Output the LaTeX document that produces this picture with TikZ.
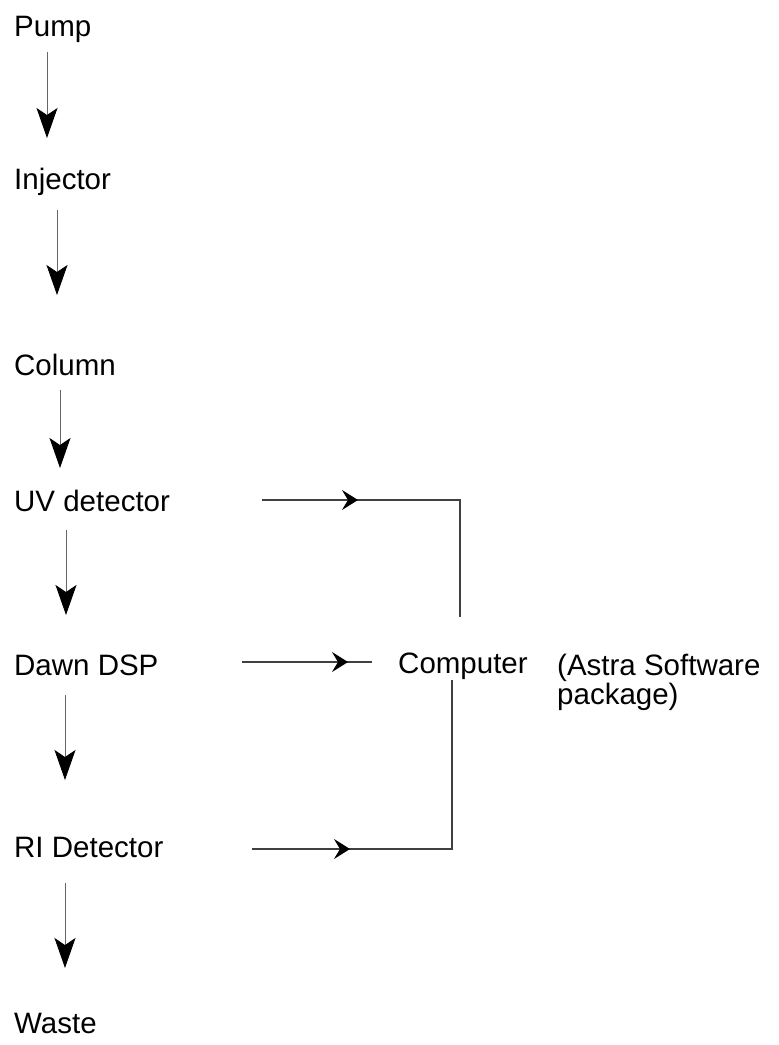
\documentclass[tikz,border=0pt]{standalone}
\usepackage{fontspec}
\setmainfont{Liberation Sans}
\usetikzlibrary{arrows.meta,calc,decorations.markings}
\begin{document}
\begin{tikzpicture}[x=1pt,y=-1pt,
  lbl/.style={inner sep=0pt, anchor=base west, font=\fontsize{29.5}{27}\selectfont},
  vline/.style={draw=black!60, line width=0.9pt, -{Stealth[length=30pt,width=21pt,inset=7pt,color=black]}},
  hline/.style={draw=black!75, line width=1.1pt},
  midtip/.style={postaction={decorate}, decoration={markings,
      mark=at position #1 with {\arrow{Stealth[length=16pt,width=20pt,inset=6pt,color=black]}}}}]
\useasboundingbox (0,0) rectangle (779,1045);

\node[lbl] (pump)     at (14,36)   {Pump};
\node[lbl] (injector) at (14,189)  {Injector};
\node[lbl] (column)   at (14,375)  {Column};
\node[lbl] (uv)       at (14,511)  {UV detector};
\node[lbl] (dawn)     at (14,675)  {Dawn DSP};
\node[lbl] (ri)       at (14,857)  {RI Detector};
\node[lbl] (waste)    at (14,1033) {Waste};
\node[lbl] (comp)     at (398,673) {Computer};
\node[lbl, anchor=north west, align=left] (astra) at (557,654) {(Astra Software\\package)};

% vertical flow
\draw[vline] ($(pump.base west)+(33,16)$)     -- ($(injector.base west)+(33,-51)$);
\draw[vline] ($(injector.base west)+(43,21)$) -- ($(column.base west)+(43,-80)$);
\draw[vline] ($(column.base west)+(46,15)$)   -- ($(uv.base west)+(46,-43)$);
\draw[vline] ($(uv.base west)+(52,19)$)       -- ($(dawn.base west)+(52,-60)$);
\draw[vline] ($(dawn.base west)+(51,20)$)     -- ($(ri.base west)+(51,-77)$);
\draw[vline] ($(ri.base west)+(51,26)$)       -- ($(waste.base west)+(51,-65)$);

% signals to computer
\draw[hline, midtip=96pt] ($(uv.base west)+(248,-11)$) -- ($(comp.base west)+(62,-173)$) -- ($(comp.base west)+(62,-56)$);
\draw[hline, midtip=106pt] ($(dawn.base west)+(228,-13)$) -- ($(comp.base west)+(-26,-11)$);
\draw[hline, midtip=98pt] ($(ri.base west)+(238,-8)$) -- ($(comp.base west)+(54,176)$) -- ($(comp.base west)+(54,7)$);
\end{tikzpicture}
\end{document}
